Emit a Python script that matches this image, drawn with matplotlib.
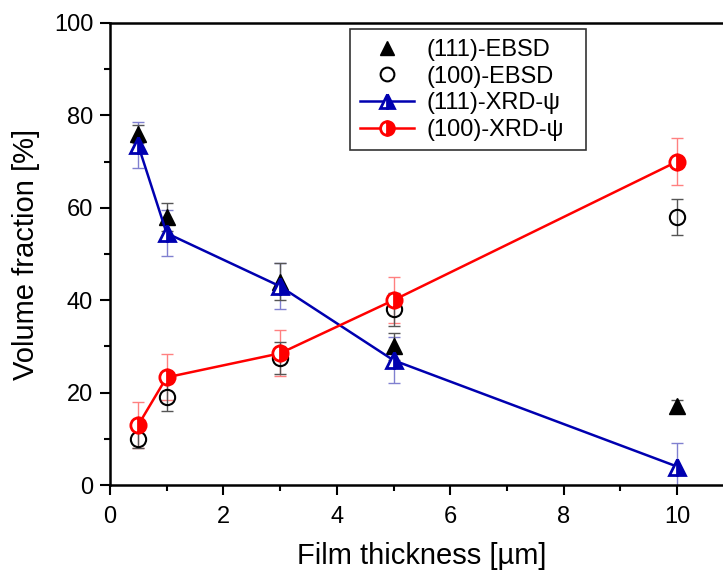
import numpy as np
import matplotlib.pyplot as plt
from matplotlib.ticker import MultipleLocator

plt.rcParams['font.family'] = ['Liberation Sans', 'DejaVu Sans']

thickness = [0.5, 1, 3, 5, 10]

ebsd_111 = [76, 58, 44, 30, 17]
ebsd_111_err = [2, 3, 4, 3, 1.5]
ebsd_100 = [10, 19, 27.5, 38, 58]
ebsd_100_err = [2, 3, 3.5, 3.5, 4]
xrd_111 = [73.5, 54.5, 43, 27, 4]
xrd_111_err = [5, 5, 5, 5, 5]
xrd_100 = [13, 23.3, 28.5, 40, 70]
xrd_100_err = [5, 5, 5, 5, 5]

fig = plt.figure(figsize=(7.23, 5.72), dpi=100)
ax = fig.add_axes([0.152, 0.152, 0.863, 0.808])

ms = 11
ax.errorbar(thickness, xrd_100, yerr=xrd_100_err, fmt='none', ecolor='#ff8080',
            elinewidth=1, capsize=4, zorder=2)
ax.errorbar(thickness, xrd_111, yerr=xrd_111_err, fmt='none', ecolor='#8080d0',
            elinewidth=1, capsize=4, zorder=2)
ax.errorbar(thickness, ebsd_100, yerr=ebsd_100_err, fmt='none', ecolor='#555555',
            elinewidth=1, capsize=4, zorder=2)
ax.errorbar(thickness, ebsd_111, yerr=ebsd_111_err, fmt='none', ecolor='#555555',
            elinewidth=1, capsize=4, zorder=2)

h1, = ax.plot(thickness, ebsd_111, '^', color='black', ms=ms, ls='none',
              label='(111)-EBSD', zorder=3)
h2, = ax.plot(thickness, ebsd_100, 'o', mfc='none', mec='black', mew=1.5, ms=ms,
              ls='none', label='(100)-EBSD', zorder=3)
h3, = ax.plot(thickness, xrd_111, '-^', color='#0000b0', lw=1.8, ms=ms,
              fillstyle='right', mfc='#0000b0', markerfacecoloralt='white', mec='#0000b0',
              mew=2, label='(111)-XRD-ψ', zorder=4)
h4, = ax.plot(thickness, xrd_100, '-o', color='red', lw=1.8, ms=ms,
              fillstyle='right', mfc='red', markerfacecoloralt='white', mec='red',
              mew=2, label='(100)-XRD-ψ', zorder=4)

ax.set_xlim(0, 11)
ax.set_ylim(0, 100)
ax.xaxis.set_major_locator(MultipleLocator(2))
ax.xaxis.set_minor_locator(MultipleLocator(1))
ax.yaxis.set_major_locator(MultipleLocator(20))
ax.yaxis.set_minor_locator(MultipleLocator(10))
ax.tick_params(which='major', direction='out', length=7, width=1.5, labelsize=17)
ax.tick_params(axis='x', which='major', pad=8)
ax.tick_params(axis='y', which='major', pad=5)
ax.tick_params(which='minor', direction='out', length=4, width=1.5)
for s in ax.spines.values():
    s.set_linewidth(1.8)

ax.set_xlabel('Film thickness [µm]', fontsize=21, labelpad=10)
ax.set_ylabel('Volume fraction [%]', fontsize=21, labelpad=10)

# legend box stretched to the reference width
leg = ax.legend(handles=[h1, h2, h3, h4], loc='upper left',
                bbox_to_anchor=(0.385, 0.5, 0.378, 0.486), mode='expand',
                borderaxespad=0, fontsize=17, markerscale=0.9,
                frameon=True, fancybox=False, edgecolor='black', handlelength=2.3,
                borderpad=0.4, labelspacing=0.2, handletextpad=0.55)
leg.get_frame().set_linewidth(1.2)

fig.savefig('out.png', dpi=100)
